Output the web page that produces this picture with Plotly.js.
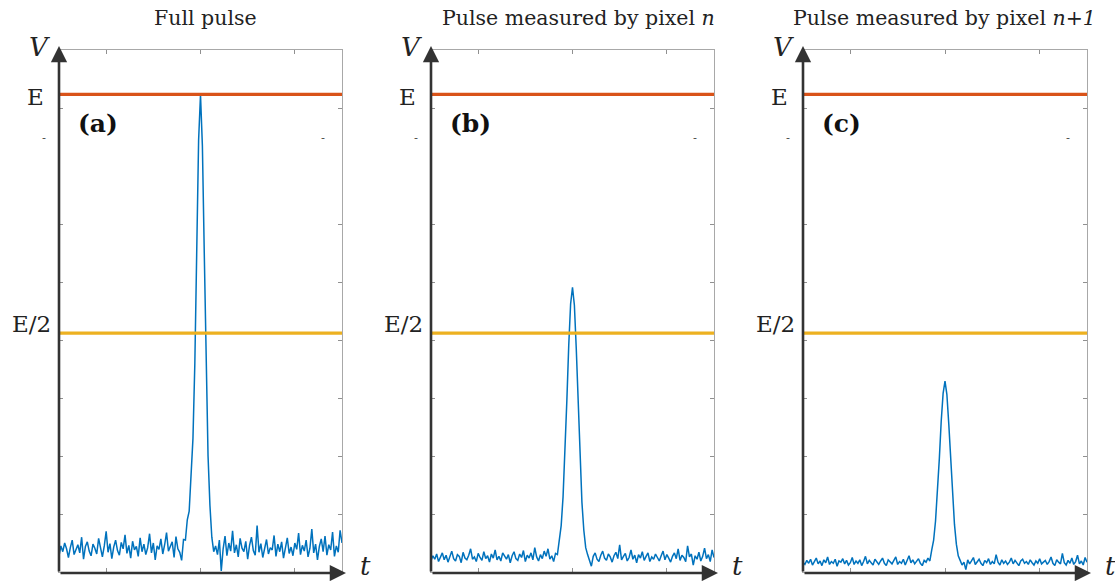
<!DOCTYPE html>
<html><head><meta charset="utf-8">
<script src="https://cdn.plot.ly/plotly-3.0.1.min.js"></script>
<style>html,body{margin:0;padding:0;background:#fff}#plot{width:1115px;height:581px}</style>
</head><body><div id="plot"></div>
<script>
// ---------- data ----------
const panelTitles = ['Full pulse', 'Pulse measured by pixel <i>n</i>', 'Pulse measured by pixel <i>n+1</i>'];
const panelLabels = ['<b>(a)</b>', '<b>(b)</b>', '<b>(c)</b>'];
const levelNames = ['E', 'E/2'];
const levelValues = [8.235, 4.117];
const xTickVals = [1, 3, 5];
const yTickVals = [1, 2, 3, 4, 5, 6, 8];
const dt = 0.04; // sample spacing along t
const pulseA = [
0.28,0.45,0.35,0.50,0.40,0.25,0.42,0.55,0.30,0.38,
0.47,0.33,0.60,0.22,0.44,0.52,0.36,0.28,0.48,0.41,
0.31,0.58,0.39,0.26,0.45,0.70,0.34,0.49,0.23,0.43,
0.55,0.37,0.29,0.51,0.40,0.64,0.32,0.46,0.24,0.53,
0.38,0.44,0.27,0.59,0.35,0.48,0.30,0.42,0.66,0.33,
0.50,0.21,0.45,0.39,0.57,0.31,0.47,0.68,0.36,0.43,
0.52,0.25,0.61,0.40,0.34,0.20,0.56,0.55,
0.90,1.05,1.60,2.30,3.60,5.60,7.45,8.23,7.35,5.50,3.50,2.00,1.15,0.60,0.35,
0.45,0.30,0.55,0.02,0.40,0.62,0.28,0.50,0.36,0.71,
0.33,0.47,0.26,0.58,0.41,0.35,0.53,0.22,0.46,0.60,
0.37,0.29,0.80,0.34,0.49,0.25,0.44,0.56,0.31,0.42,
0.38,0.63,0.27,0.48,0.35,0.52,0.24,0.45,0.59,0.32,
0.43,0.28,0.50,0.39,0.67,0.30,0.46,0.36,0.55,0.26,
0.41,0.74,0.33,0.48,0.21,0.44,0.57,0.35,0.62,0.29,
0.47,0.38,0.69,0.27,0.45,0.34,0.72,0.50];
const pulseB = [
0.20,0.28,0.22,0.31,0.18,0.26,0.33,0.21,0.29,0.17,
0.25,0.36,0.23,0.19,0.30,0.27,0.16,0.34,0.24,0.21,
0.29,0.40,0.22,0.26,0.18,0.32,0.25,0.20,0.35,0.23,
0.28,0.17,0.31,0.24,0.38,0.21,0.27,0.19,0.33,0.26,
0.22,0.30,0.16,0.28,0.35,0.23,0.20,0.31,0.25,0.37,
0.18,0.29,0.24,0.33,0.21,0.42,0.26,0.19,0.30,0.23,
0.36,0.27,0.40,0.22,0.28,0.18,0.32,0.30,
0.55,0.80,1.30,2.00,2.95,3.90,4.62,4.91,4.60,3.85,2.90,1.95,1.20,0.72,0.42,
0.30,0.20,0.10,0.27,0.33,0.22,0.18,0.29,0.36,0.24,
0.20,0.31,0.26,0.17,0.28,0.34,0.23,0.47,0.21,0.27,
0.32,0.19,0.25,0.38,0.22,0.29,0.16,0.30,0.24,0.35,
0.20,0.27,0.33,0.18,0.26,0.22,0.31,0.25,0.19,0.28,
0.36,0.21,0.30,0.24,0.17,0.27,0.33,0.23,0.40,0.20,
0.29,0.25,0.18,0.45,0.26,0.31,0.12,0.28,0.22,0.34,
0.19,0.27,0.41,0.23,0.30,0.18,0.38,0.25];
const pulseC = [
0.17,0.13,0.20,0.15,0.22,0.12,0.18,0.24,0.14,0.19,
0.11,0.21,0.16,0.26,0.13,0.18,0.15,0.22,0.10,0.19,
0.17,0.23,0.14,0.20,0.12,0.16,0.25,0.13,0.19,0.15,
0.21,0.11,0.18,0.27,0.14,0.20,0.16,0.12,0.22,0.17,
0.13,0.19,0.24,0.15,0.11,0.21,0.17,0.14,0.20,0.26,
0.13,0.18,0.15,0.22,0.12,0.19,0.28,0.16,0.21,0.14,
0.18,0.23,0.15,0.11,0.20,0.17,0.24,0.19,
0.38,0.55,0.88,1.35,1.95,2.60,3.08,3.29,3.06,2.55,1.90,1.30,0.82,0.48,0.28,
0.20,0.12,0.17,0.04,0.21,0.14,0.19,0.25,0.13,0.18,
0.22,0.15,0.11,0.20,0.16,0.23,0.13,0.18,0.14,0.30,
0.17,0.12,0.21,0.15,0.19,0.13,0.17,0.24,0.14,0.20,
0.16,0.11,0.19,0.22,0.15,0.18,0.13,0.21,0.16,0.12,
0.19,0.15,0.23,0.14,0.17,0.20,0.13,0.18,0.26,0.15,
0.11,0.21,0.17,0.14,0.32,0.16,0.12,0.20,0.15,0.24,
0.13,0.18,0.29,0.14,0.19,0.12,0.25,0.17];
const pulses = [pulseA, pulseB, pulseC];

// ---------- layout helpers ----------
const W = 1115, H = 581;
const px = v => v / W, py = v => 1 - v / H;
const panelPx = [[59, 342], [431, 714], [803, 1087]];
const titleCenterPx = [205, 578, 944];
const topPx = 50, botPx = 572;
const levelColors = ['#D95319', '#EDB120'];
const serif = '"DejaVu Serif", "Liberation Serif", serif';

const traces = [], annotations = [];
const layout = {
  width: W, height: H, margin: {l: 0, r: 0, t: 0, b: 0},
  paper_bgcolor: '#fff', plot_bgcolor: '#fff', showlegend: false,
  annotations: annotations
};
const xMax = (pulseA.length - 1) * dt;

pulses.forEach((vals, k) => {
  const sfx = k === 0 ? '' : String(k + 1);
  const xa = 'x' + sfx, ya = 'y' + sfx;
  const t = vals.map((_, i) => i * dt);
  traces.push({x: t, y: vals, xaxis: xa, yaxis: ya, mode: 'lines',
    line: {color: '#0072BD', width: 1.5}, hoverinfo: 'skip'});
  levelValues.forEach((lv, j) => {
    traces.push({x: [0, xMax], y: [lv, lv], xaxis: xa, yaxis: ya, mode: 'lines',
      line: {color: levelColors[j], width: 3.2}, hoverinfo: 'skip'});
  });
  const [l, r] = panelPx[k];
  layout['xaxis' + sfx] = {domain: [px(l), px(r)], anchor: ya, range: [0, xMax],
    showline: true, linecolor: '#a8a8a8', linewidth: 1, mirror: 'ticks',
    ticks: 'inside', ticklen: 4, tickwidth: 1, tickcolor: '#909090',
    tickvals: xTickVals, showticklabels: false, showgrid: false, zeroline: false, fixedrange: true};
  layout['yaxis' + sfx] = {domain: [py(botPx), py(topPx)], anchor: xa, range: [0, 9],
    showline: true, linecolor: '#a8a8a8', linewidth: 1, mirror: 'ticks',
    ticks: 'inside', ticklen: 4, tickwidth: 1, tickcolor: '#909090',
    tickvals: yTickVals, showticklabels: false, showgrid: false, zeroline: false, fixedrange: true};

  // dark axes with arrows
  annotations.push({xref: 'paper', yref: 'paper', x: px(l), y: py(46), ax: 0, ay: botPx + 1 - 46,
    text: '', showarrow: true, arrowhead: 2, arrowsize: 1.25, arrowwidth: 2.6, arrowcolor: '#333', standoff: 0});
  annotations.push({xref: 'paper', yref: 'paper', x: px(r + 4), y: py(botPx + 1), ax: -(r + 4 - l), ay: 0,
    text: '', showarrow: true, arrowhead: 2, arrowsize: 1.25, arrowwidth: 2.6, arrowcolor: '#333', standoff: 0});

  // title
  annotations.push({xref: 'paper', yref: 'paper', x: px(titleCenterPx[k]), y: py(18), text: panelTitles[k],
    showarrow: false, xanchor: 'center', yanchor: 'middle', font: {family: serif, size: 20.5, color: '#222'}});
  // V and t
  annotations.push({xref: 'paper', yref: 'paper', x: px(l - 7), y: py(47), text: '<i>V</i>',
    showarrow: false, xanchor: 'right', yanchor: 'middle', font: {family: serif, size: 26, color: '#222'}});
  annotations.push({xref: 'paper', yref: 'paper', x: px(r + 23), y: py(566), text: '<i>t</i>',
    showarrow: false, xanchor: 'center', yanchor: 'middle', font: {family: serif, size: 26, color: '#222'}});
  // level labels
  annotations.push({xref: 'paper', yref: 'paper', x: px(l - 13), y: py(97), text: levelNames[0],
    showarrow: false, xanchor: 'right', yanchor: 'middle', font: {family: serif, size: 23, color: '#222'}});
  annotations.push({xref: 'paper', yref: 'paper', x: px(l - 6), y: py(324), text: levelNames[1],
    showarrow: false, xanchor: 'right', yanchor: 'middle', font: {family: serif, size: 23, color: '#222'}});
  // stray dash marks
  annotations.push({xref: 'paper', yref: 'paper', x: px(l - 15), y: py(138), text: '-',
    showarrow: false, xanchor: 'center', yanchor: 'middle', font: {family: 'DejaVu Sans', size: 11, color: '#444'}});
  annotations.push({xref: 'paper', yref: 'paper', x: px(r - 19), y: py(138), text: '-',
    showarrow: false, xanchor: 'center', yanchor: 'middle', font: {family: 'DejaVu Sans', size: 11, color: '#444'}});
  // panel label
  annotations.push({xref: 'paper', yref: 'paper', x: px(l + 17), y: py(123), text: panelLabels[k],
    showarrow: false, xanchor: 'left', yanchor: 'middle', font: {family: serif, size: 25, color: '#111'}});
});

Plotly.newPlot('plot', traces, layout, {staticPlot: true, displayModeBar: false});
</script>
</body></html>
